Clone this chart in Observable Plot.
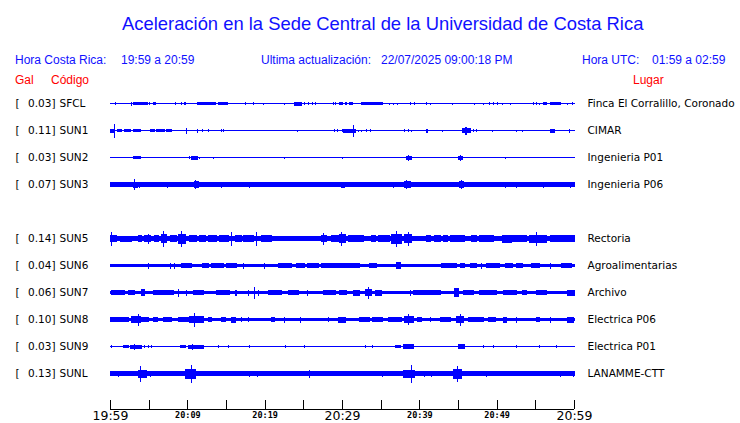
<!DOCTYPE html>
<html><head><meta charset="utf-8">
<script src="https://cdn.jsdelivr.net/npm/d3@7"></script>
<script src="https://cdn.jsdelivr.net/npm/@observablehq/plot@0.6"></script>
<style>
body{margin:0;background:#fff;}
#head{position:relative;width:740px;height:90px;font-family:"Liberation Sans",Arial,sans-serif;}
#head div{position:absolute;white-space:nowrap;line-height:1;}
.t{font-size:18.4px;color:#1010ff;top:15px;left:122px}
.b{font-size:12px;color:#1010ff;top:54px}
.r{font-size:12px;color:#ff0000;top:74px}
#chart svg{display:block}
</style></head>
<body>
<div id="head">
  <div class="t">Aceleración en la Sede Central de la Universidad de Costa Rica</div>
  <div class="b" style="left:15px">Hora Costa Rica:</div>
  <div class="b" style="left:121px">19:59 a 20:59</div>
  <div class="b" style="left:261px">Ultima actualización:</div>
  <div class="b" style="left:381px">22/07/2025 09:00:18 PM</div>
  <div class="b" style="left:582px">Hora UTC:</div>
  <div class="b" style="left:652px">01:59 a 02:59</div>
  <div class="r" style="left:15px">Gal</div>
  <div class="r" style="left:51px">Código</div>
  <div class="r" style="left:633px">Lugar</div>
</div>
<div id="chart"></div>
<script>
// ---- data ----
const codes = ["SFCL","SUN1","SUN2","SUN3","SUN5","SUN6","SUN7","SUN8","SUN9","SUNL"];
const gal = ["0.03","0.11","0.03","0.07","0.14","0.04","0.06","0.10","0.03","0.13"];
const places = ["Finca El Corralillo, Coronado","CIMAR","Ingenieria P01","Ingenieria P06","Rectoria","Agroalimentarias","Archivo","Electrica P06","Electrica P01","LANAMME-CTT"];
const rows = [0,1,2,3,5,6,7,8,9,10];
// background noise level of each trace (half amplitude)
const noise = [0.5,0.5,0.5,2.4,2.5,1.8,1.8,1.8,0.5,2.4];
// events: [start minute, end minute, half amplitude]
const evSFCL = [[0.7,0.7,1.5],[2.8,2.8,2],[3.0,4.8,1.7],[5.1,5.1,1.5],[5.6,5.9,1.5],[8.5,8.5,1.5],[9.3,9.3,1.5],[9.6,9.8,1.5],[11.25,13.7,1.7],[14.0,15.2,1.7],[17.5,17.5,1.5],[18.6,18.6,1.5],[19.8,19.8,1],[22.6,22.6,1],[23.9,24.8,2],[25.2,25.2,1.5],[25.7,25.7,1.5],[26.2,26.2,1.5],[26.6,26.6,1.5],[28.9,28.9,1.5],[29.2,29.2,1.5],[29.7,30.1,1.7],[30.4,30.6,1.5],[31.0,31.4,1.5],[32.5,35.3,1.7],[36.2,36.2,1],[36.6,36.6,1],[37.2,37.2,1],[38.8,38.8,1.5],[39.4,39.4,1.5],[40.9,40.9,1.5],[41.4,41.4,1],[44.3,44.3,1],[47.1,47.1,1],[48.3,48.3,1],[49.1,49.1,1.5],[49.6,49.6,1.5],[50.1,50.1,1.5],[50.8,50.8,1],[51.8,51.8,1],[54.7,54.7,1.5],[55.2,55.2,1.5],[55.6,55.6,1],[56.0,56.5,1.5],[56.9,58.2,1.7],[59.1,59.1,1],[59.8,59.8,1.5]];
const evSUN1 = [[0.0,0.5,2],[0.56,0.56,7],[1.0,1.5,1.5],[1.9,2.6,1.5],[3.0,3.9,1.5],[5.3,5.8,1.5],[6.0,6.5,1.5],[6.7,7.1,1.5],[7.3,8.0,1.5],[9.9,9.9,3],[11.3,11.3,2],[11.9,11.9,1.5],[12.7,12.7,1.5],[14.4,14.4,1.5],[14.7,14.7,1.5],[24.2,24.2,1],[29.0,29.0,1.5],[29.4,29.4,1.5],[30.0,30.4,1.5],[30.2,31.7,2],[31.5,31.5,6],[32.1,32.1,1],[32.5,32.5,1],[33.2,33.2,1.5],[33.7,33.7,1.5],[38.1,38.1,1.5],[38.6,38.6,1.5],[39.0,39.0,1],[40.9,41.0,2],[43.0,43.0,1],[45.6,46.6,2.5],[46.0,46.1,4],[47.0,47.0,1.5],[47.4,47.4,1.5],[49.4,49.4,1],[52.6,52.6,1],[53.4,53.4,1],[56.9,57.5,2],[59.4,59.4,2]];
const evSUN2 = [[3.1,3.9,1.5],[10.3,10.3,1.5],[10.6,11.3,2],[11.6,11.6,1],[13.4,13.4,1],[22.6,22.6,1],[30.0,30.0,1],[38.4,39.0,2],[38.6,38.6,3],[45.0,45.6,2],[45.3,45.3,3],[51.2,51.2,1]];
const evSUN3 = [[3.0,3.6,3],[3.15,3.15,5.5],[3.8,3.8,3],[7.4,7.4,3],[10.9,11.4,3.5],[11.0,11.0,4.5],[14.4,14.4,3],[18.0,18.0,3],[29.9,30.3,3],[36.7,36.7,3],[38.1,38.8,3.5],[38.3,38.3,4.5],[45.2,45.7,3.5],[45.4,45.4,4.5],[51.2,51.2,3],[52.5,52.5,3],[56.0,56.0,3],[59.5,59.5,3]];
const evSUN5 = [[0,0.8,3.8],[0.15,0.15,7],[1.3,2.8,3],[3.7,4.1,3.2],[4.5,5.2,3.5],[5.0,5.0,5],[5.8,6.3,3.2],[6.7,7.3,4.5],[6.9,6.9,8],[7.8,8.6,3.5],[8.8,9.7,5],[9.2,9.2,8],[10.3,11.2,3.5],[11.6,12.3,3.5],[12.7,13.8,3.5],[14.2,15.3,3.5],[15.7,15.7,7],[16.2,17.0,3.5],[17.2,18.5,3.2],[19.0,19.0,7],[19.6,20.9,3.2],[21.3,23.5,2.9],[23.9,25.2,2.9],[26.1,26.9,2.9],[27.4,28.0,3.5],[27.6,27.6,6],[28.7,29.5,3.2],[29.7,30.4,4.5],[29.9,29.9,7],[30.8,32.8,3.2],[33.8,34.3,3.5],[34.7,36.2,3.2],[36.4,37.7,5],[37.0,37.0,8],[38.1,39.0,4.5],[38.6,38.6,7],[39.2,40.7,2.9],[40.9,41.4,3.2],[42.0,42.7,3.2],[43.1,43.7,3.5],[44.0,45.9,3.2],[46.8,47.4,3.5],[47.8,49.6,3.5],[50.7,51.9,4],[52.1,53.9,3.5],[54.3,56.5,4],[55.2,55.2,7],[56.9,58.6,3.2],[58.8,60,3.2]];
const evSUN6 = [[5.0,5.0,3],[7.8,7.8,3],[8.4,8.4,3],[9.3,10.6,2.3],[11.9,12.7,2.3],[13.1,14.7,2.3],[15.1,16.4,2.6],[17.2,17.2,3],[20.0,20.0,3],[21.8,23.5,2.3],[24.1,25.2,2.3],[25.6,26.9,2.3],[27.4,29.5,2.3],[29.7,32.3,2.3],[33.6,34.5,2.3],[37.1,37.5,3.5],[42.9,44.8,2.3],[45.3,45.9,2.6],[46.6,47.4,2.3],[48.1,48.1,3],[48.7,50.4,2.3],[51.1,52.1,2.3],[52.6,53.4,2.3],[54.5,55.6,2.3],[56.9,56.9,3],[58.4,59.7,2.3]];
const evSUN7 = [[0.2,1.9,2.7],[2.4,3.2,2.7],[4.1,4.5,3.2],[5.6,8.2,2.8],[8.8,8.8,4],[9.9,9.9,3],[10.8,12.1,2.7],[13.8,15.5,2.8],[16.2,16.4,3],[17.9,17.9,3],[18.7,18.7,6],[19.2,19.2,3],[20.5,22.2,2.8],[23.1,24.4,2.7],[25.6,25.6,3],[27.6,29.1,2.8],[29.7,30.6,2.7],[31.5,32.3,3],[33.0,33.8,3.5],[33.4,33.4,6],[34.3,35.1,3],[38.8,38.8,3],[39.2,42.7,2.5],[44.6,45.0,4.5],[45.7,47.0,2.7],[47.8,50.0,2.8],[50.9,52.6,2.8],[53.4,53.9,2.7],[55.2,56.5,2.7],[59.1,60,3]];
const evSUN8 = [[0,2.4,2.5],[2.8,3.9,3.5],[3.7,3.7,6],[4.1,5.0,2.8],[5.6,6.2,2.5],[6.9,8.0,2.5],[8.8,10.1,2.8],[10.3,12.1,3.5],[10.9,10.9,7],[12.7,13.1,2.5],[14.4,14.9,2.5],[15.7,16.2,3],[17.0,17.0,2.5],[17.9,17.9,2.5],[20.9,21.3,2.5],[22.6,22.6,3],[24.6,24.6,3],[28.2,28.2,2.5],[29.5,30.4,3],[32.3,33.6,2.7],[34.0,35.3,2.7],[36.0,37.7,2.7],[38.1,39.2,3.5],[38.6,38.6,5.5],[39.7,40.3,2.8],[41.4,41.4,2.5],[42.7,44.0,2.5],[44.8,45.7,3.5],[45.3,45.3,6],[46.3,48.3,2.5],[48.9,49.8,2.5],[50.9,51.3,3],[52.6,52.6,3],[55.2,55.6,2.5],[56.9,56.9,3],[59.1,59.9,3]];
const evSUN9 = [[0.2,0.2,1.5],[1.7,2.4,1.5],[2.7,4.1,2],[3.2,3.2,3],[4.5,4.5,1.5],[5.0,5.0,1.5],[5.4,5.4,1.5],[9.1,9.7,1.5],[10.1,12.1,2],[10.7,10.7,3],[14.0,14.0,1.5],[15.3,15.3,1.5],[18.0,18.0,1.5],[22.7,22.7,1.5],[25.2,25.2,1.5],[33.0,33.0,1.5],[33.9,33.9,1.5],[36.9,37.5,1.5],[37.9,39.2,2.5],[45.0,45.9,2.5],[48.3,48.3,1.5],[49.6,49.6,1.5],[52.6,52.6,1.5],[55.6,55.6,1.5],[57.8,57.8,1.5]];
const evSUNL = [[1.1,1.1,3],[3.7,4.7,4],[4.0,4.0,8],[5.2,5.2,3],[9.7,11.0,5],[10.5,10.5,9],[18.1,18.1,3],[19.1,19.1,3],[25.8,25.8,4],[35.3,35.3,3],[37.9,39.4,4],[39.0,39.0,9],[40.7,40.7,3],[41.6,41.6,3],[44.4,45.5,5],[44.9,44.9,8],[48.7,48.7,3],[58.2,58.2,3],[59.9,59.9,3]];
const events = [evSFCL,evSUN1,evSUN2,evSUN3,evSUN5,evSUN6,evSUN7,evSUN8,evSUN9,evSUNL];
// time axis (minutes after 19:59)
const tickMinutes = [0,5,10,15,20,25,30,35,40,45,50,55,60];
const majorTicks = [0,30,60];
const majorLabels = ["19:59","20:29","20:59"];
const minorTicks = [10,20,40,50];
const minorLabels = ["20:09","20:19","20:39","20:49"];

// ---- layout constants ----
const ROW_PX = 27;              // pixel spacing between traces
const A = 1 / ROW_PX;           // amplitude units -> row units
const AXIS_Y = 11.333, TICK_TOP = 10.98, LABEL_BIG = 11.56, LABEL_SMALL = 11.54;

const segs = [];
codes.forEach((c, i) => {
  const r = rows[i];
  segs.push({x1: 0, x2: 60, y1: r - noise[i] * A, y2: r + noise[i] * A});
  for (const [t0, t1, a] of events[i]) segs.push({x1: t0, x2: t1, y1: r - a * A, y2: r + a * A});
});
const st = codes.map((c, i) => ({code: c, gal: gal[i], place: places[i], row: rows[i]}));

const chart = Plot.plot({
  width: 740, height: 333,
  marginLeft: 110, marginRight: 166, marginTop: 0, marginBottom: 0,
  x: {domain: [0, 60], axis: null},
  y: {domain: [0, 10], range: [13.5, 283.5], axis: null},
  marks: [
    Plot.rect(segs, {x1: "x1", x2: "x2", y1: "y1", y2: "y2", fill: "#0000ff", insetLeft: -0.5, insetRight: -0.5, shapeRendering: "crispEdges"}),
    Plot.text(st, {y: "row", text: () => "[", frameAnchor: "left", dx: -95, textAnchor: "start", fontFamily: "DejaVu Sans", fontSize: 10.5, fill: "#000"}),
    Plot.text(st, {y: "row", text: d => d.gal + "]", frameAnchor: "left", dx: -55, textAnchor: "end", fontFamily: "DejaVu Sans", fontSize: 10.5, fill: "#000"}),
    Plot.text(st, {y: "row", text: "code", frameAnchor: "left", dx: -51, textAnchor: "start", fontFamily: "DejaVu Sans", fontSize: 10.5, fill: "#000"}),
    Plot.text(st, {y: "row", text: "place", frameAnchor: "right", dx: 13, textAnchor: "start", fontFamily: "DejaVu Sans", fontSize: 10.5, fill: "#000"}),
    Plot.ruleY([AXIS_Y], {x1: 0, x2: 60, stroke: "#000", shapeRendering: "crispEdges"}),
    Plot.ruleX(tickMinutes, {x: d => d, y1: TICK_TOP, y2: AXIS_Y, stroke: "#000", shapeRendering: "crispEdges"}),
    Plot.text(majorTicks, {x: d => d, y: LABEL_BIG, text: (d, i) => majorLabels[i], fontFamily: "DejaVu Sans", fontSize: 12.5, fill: "#000"}),
    Plot.text(minorTicks, {x: d => d, y: LABEL_SMALL, text: (d, i) => minorLabels[i], fontFamily: "DejaVu Sans Mono", fontWeight: "bold", fontSize: 8.5, fill: "#000"})
  ]
});
document.getElementById("chart").appendChild(chart);
</script>
</body></html>
